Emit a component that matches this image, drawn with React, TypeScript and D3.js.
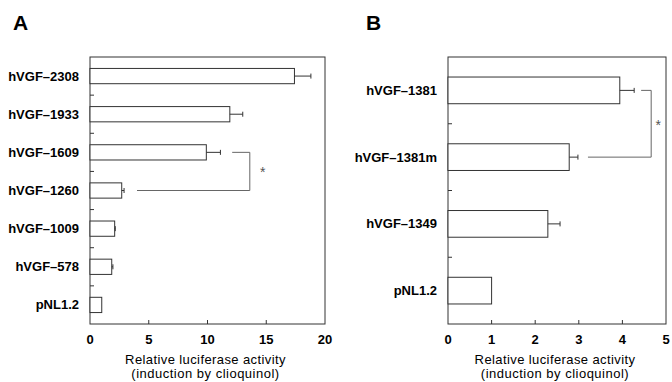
import React from "react";
import * as d3 from "d3";

const catsA = ["hVGF–2308", "hVGF–1933", "hVGF–1609", "hVGF–1260", "hVGF–1009", "hVGF–578", "pNL1.2"];
const valsA = [17.4, 11.9, 9.9, 2.7, 2.1, 1.85, 1.0];
const errsA = [1.4, 1.1, 1.2, 0.2, 0.05, 0.1, 0];
const ticksA = [0, 5, 10, 15, 20];

const catsB = ["hVGF–1381", "hVGF–1381m", "hVGF–1349", "pNL1.2"];
const valsB = [3.94, 2.78, 2.29, 1.0];
const errsB = [0.33, 0.2, 0.28, 0];
const ticksB = [0, 1, 2, 3, 4, 5];

const bracketA = { from: "hVGF–1609", to: "hVGF–1260", upperStart: 12.1, lowerStart: 4.0, vert: 13.6, star: 14.7 };
const bracketB = { from: "hVGF–1381", to: "hVGF–1381m", upperStart: 4.43, lowerStart: 3.21, vert: 4.66, star: 4.82 };

const xTitle1 = "Relative luciferase activity";
const xTitle2 = "(induction by clioquinol)";

type PanelProps = {
  letter: string;
  letterX: number;
  cats: string[];
  vals: number[];
  errs: number[];
  ticks: number[];
  left: number;
  right: number;
  bracket: { from: string; to: string; upperStart: number; lowerStart: number; vert: number; star: number };
};

const top = 57;
const bottom = 324;
const line = "#333";
const font = "Liberation Sans, Arial, sans-serif";

function Panel({ letter, letterX, cats, vals, errs, ticks, left, right, bracket }: PanelProps) {
  const x = d3.scaleLinear().domain([ticks[0], ticks[ticks.length - 1]]).range([left, right]);
  const y = d3.scaleBand<string>().domain(cats).range([top, bottom]).paddingInner(0.6).paddingOuter(0.3);
  const step = y.step();
  const bw = y.bandwidth();
  const cy = (c: string) => (y(c) as number) + bw / 2;
  const boundaries = cats.slice(1).map((c, i) => top + step * (i + 1));
  const by1 = cy(bracket.from);
  const by2 = cy(bracket.to);
  return (
    <g>
      <text x={letterX} y={30} fontFamily={font} fontWeight="bold" fontSize={21}>
        {letter}
      </text>
      <rect x={left} y={top} width={right - left} height={bottom - top} fill="none" stroke={line} strokeWidth={1} />
      {boundaries.map((b, i) => (
        <line key={"lt" + i} x1={left} x2={left + 4} y1={b} y2={b} stroke={line} />
      ))}
      {ticks.slice(1, -1).map((t) => (
        <line key={"bt" + t} x1={x(t)} x2={x(t)} y1={bottom} y2={bottom - 4} stroke={line} />
      ))}
      {ticks.map((t) => (
        <text key={"tl" + t} x={x(t)} y={344} textAnchor="middle" fontFamily={font} fontWeight="bold" fontSize={13}>
          {t}
        </text>
      ))}
      {cats.map((c, i) => (
        <g key={c}>
          <rect x={x(0)} y={y(c)} width={x(vals[i]) - x(0)} height={bw} fill="#fff" stroke={line} strokeWidth={1} />
          {errs[i] > 0 && (
            <g>
              <line x1={x(vals[i])} x2={x(vals[i] + errs[i])} y1={cy(c)} y2={cy(c)} stroke={line} />
              <line x1={x(vals[i] + errs[i])} x2={x(vals[i] + errs[i])} y1={cy(c) - 2.5} y2={cy(c) + 2.5} stroke={line} />
            </g>
          )}
          <text x={left - 11} y={cy(c)} dy="0.35em" textAnchor="end" fontFamily={font} fontWeight="bold" fontSize={13}>
            {c}
          </text>
        </g>
      ))}
      <path
        d={`M${x(bracket.upperStart)},${by1}H${x(bracket.vert)}V${by2}H${x(bracket.lowerStart)}`}
        fill="none"
        stroke="#666"
        strokeWidth={1}
      />
      <text x={x(bracket.star)} y={(by1 + by2) / 2 + 6} textAnchor="middle" fontFamily={font} fontSize={14} fill="#555">
        *
      </text>
      <text x={(left + right) / 2 - 2} y={364} textAnchor="middle" fontFamily={font} fontSize={13} letterSpacing={0.4}>
        {xTitle1}
      </text>
      <text x={(left + right) / 2 - 2} y={378} textAnchor="middle" fontFamily={font} fontSize={13} letterSpacing={0.5}>
        {xTitle2}
      </text>
    </g>
  );
}

export default function App() {
  return (
    <svg width={672} height={382} style={{ position: "absolute", left: 0, top: 0, background: "#fff" }}>
      <rect x={0} y={0} width={672} height={382} fill="#fff" />
      <Panel
        letter="A"
        letterX={13}
        cats={catsA}
        vals={valsA}
        errs={errsA}
        ticks={ticksA}
        left={90}
        right={325}
        bracket={bracketA}
      />
      <Panel
        letter="B"
        letterX={366}
        cats={catsB}
        vals={valsB}
        errs={errsB}
        ticks={ticksB}
        left={448}
        right={666}
        bracket={bracketB}
      />
    </svg>
  );
}
